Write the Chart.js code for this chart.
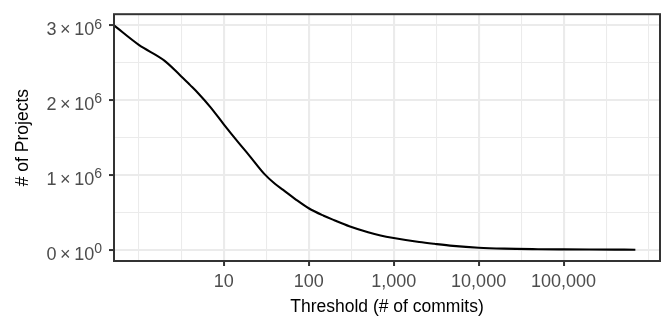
<!DOCTYPE html>
<html>
<head>
<meta charset="utf-8">
<script src="https://cdn.jsdelivr.net/npm/chart.js@4"></script>
<style>
  html, body { margin: 0; padding: 0; background: #ffffff; }
  #wrap { width: 662px; height: 320px; position: relative; }
</style>
</head>
<body>
<div id="wrap"><canvas id="projChart"></canvas></div>
<script>
// threshold (# of commits) and number of projects that reach it
const thresholds = [0, 1, 2, 3, 4, 5, 7, 10, 15, 20, 30, 40, 50, 70, 100, 150, 200, 300, 500, 700,
  1000, 2000, 3000, 5000, 10000, 20000, 50000, 100000, 200000, 400000, 700000];
const projects = [3000000, 2740000, 2530000, 2345000, 2205000, 2094000, 1905000, 1678000, 1430000,
  1260000, 1015000, 882000, 800000, 675000, 555000, 455000, 395000, 315000, 235000, 192000,
  158000, 105000, 80000, 52000, 27000, 15000, 8000, 5000, 3000, 2000, 1000];

const xMajor = [10, 100, 1000, 10000, 100000];
const xTickLabels = ['10', '100', '1,000', '10,000', '100,000'];
const xMinor = [1, 3.162, 31.62, 316.2, 3162, 31623, 316228, 1000000];

const yMajor = [0, 1000000, 2000000, 3000000];
const yMantissa = ['0', '1', '2', '3'];
const yExponent = ['0', '6', '6', '6'];
const yMinor = [500000, 1500000, 2500000];

const FONT = "'Liberation Sans', Arial, Helvetica, sans-serif";

document.addEventListener('DOMContentLoaded', function () {
    const ctx = document.getElementById('projChart').getContext('2d');

    function isMajor(list, v) {
        return list.some(m => Math.abs(m - v) < 1e-9 * Math.max(1, m));
    }

    function setTicks(major, minor) {
        return function (scale) {
            scale.ticks = major.concat(minor).sort((a, b) => a - b).map(v => ({ value: v }));
        };
    }

    // y labels like "3 × 10^6", exponent drawn raised and smaller
    const powerLabels = {
        id: 'powerLabels',
        afterDraw(chart) {
            const sc = chart.scales.y;
            const c = chart.ctx;
            const right = chart.chartArea.left - 12;
            c.save();
            c.fillStyle = '#4D4D4D';
            c.textAlign = 'right';
            c.textBaseline = 'alphabetic';
            yMajor.forEach((v, i) => {
                const py = sc.getPixelForValue(v);
                c.font = '14px ' + FONT;
                const w = c.measureText(yExponent[i]).width;
                c.fillText(yExponent[i], right, py + 3.2);
                c.font = '18px ' + FONT;
                c.fillText(yMantissa[i] + '\u2009×\u200910', right - w, py + 9.8);
            });
            c.restore();
        }
    };

    // ggplot style panel border drawn on top
    const panelBorder = {
        id: 'panelBorder',
        afterDraw(chart) {
            const a = chart.chartArea;
            const c = chart.ctx;
            c.save();
            c.strokeStyle = '#333333';
            c.lineWidth = 2;
            c.strokeRect(a.left, a.top, a.right - a.left, a.bottom - a.top);
            c.restore();
        }
    };

    new Chart(ctx, {
        type: 'line',
        data: {
            datasets: [{
                data: thresholds.map((t, i) => ({ x: t, y: projects[i] })),
                borderColor: '#000000',
                borderWidth: 2.1,
                pointRadius: 0,
                cubicInterpolationMode: 'monotone',
                fill: false
            }]
        },
        options: {
            responsive: true,
            maintainAspectRatio: false,
            animation: false,
            layout: { padding: { top: 8, right: 2, bottom: 0, left: 0 } },
            plugins: {
                legend: { display: false },
                tooltip: { enabled: false }
            },
            scales: {
                x: {
                    type: 'logarithmic',
                    bounds: 'data',
                    min: Math.pow(10, -0.292),
                    max: Math.pow(10, 6.135),
                    afterBuildTicks: setTicks(xMajor, xMinor),
                    afterFit: function (scale) { scale.height = 59; },
                    border: { display: false },
                    grid: {
                        color: '#EBEBEB',
                        lineWidth: c => isMajor(xMajor, c.tick.value) ? 2.1 : 1.05,
                        tickColor: c => isMajor(xMajor, c.tick.value) ? '#333333' : 'rgba(0,0,0,0)',
                        tickWidth: 2,
                        tickLength: 5
                    },
                    ticks: {
                        autoSkip: false,
                        maxRotation: 0,
                        padding: 5,
                        color: '#4D4D4D',
                        font: { family: FONT, size: 18 },
                        callback: function (value) {
                            const i = xMajor.findIndex(m => Math.abs(m - value) < 1e-9 * m);
                            return i >= 0 ? xTickLabels[i] : '';
                        }
                    },
                    title: {
                        display: true,
                        text: 'Threshold (# of commits)',
                        color: '#000000',
                        font: { family: FONT, size: 17.5 },
                        padding: { top: 0, bottom: 2 }
                    }
                },
                y: {
                    type: 'linear',
                    min: -150000,
                    max: 3150000,
                    afterBuildTicks: setTicks(yMajor, yMinor),
                    afterFit: function (scale) { scale.width = 114; },
                    border: { display: false },
                    grid: {
                        color: '#EBEBEB',
                        lineWidth: c => isMajor(yMajor, c.tick.value) ? 2.1 : 1.05,
                        tickColor: c => isMajor(yMajor, c.tick.value) ? '#333333' : 'rgba(0,0,0,0)',
                        tickWidth: 2,
                        tickLength: 5
                    },
                    ticks: {
                        autoSkip: false,
                        padding: 7,
                        callback: function () { return ''; }
                    },
                    title: {
                        display: true,
                        text: '# of Projects',
                        color: '#000000',
                        font: { family: FONT, size: 17.5 },
                        padding: { top: 12.5, bottom: 0 }
                    }
                }
            }
        },
        plugins: [powerLabels, panelBorder]
    });
});
</script>
</body>
</html>
